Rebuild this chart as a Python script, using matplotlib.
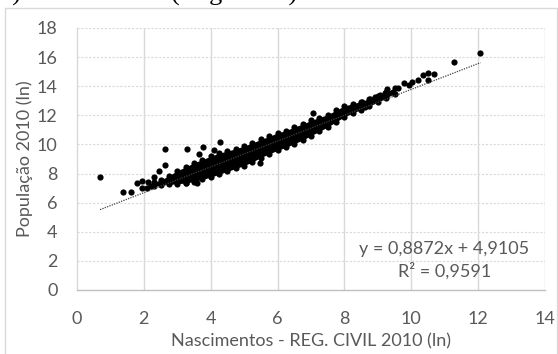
import matplotlib
matplotlib.use("Agg")
import matplotlib.pyplot as plt
from matplotlib.patches import Rectangle
import numpy as np

# ---- data ----
# sparse / isolated municipalities (ln births, ln population)
pts_x = [0.69, 1.37, 1.61, 1.79, 1.93, 2.13, 1.95, 2.10, 2.20, 2.30, 2.46, 2.63, 2.63,
         3.28, 3.66, 3.78, 4.10, 4.28, 3.26, 3.58, 5.47, 7.07,
         8.52, 8.61, 8.76, 8.91, 9.06, 9.21, 9.28, 9.46, 9.61, 9.79, 9.94, 10.01,
         10.19, 10.34, 10.51, 10.51, 10.68, 11.28, 12.07]
pts_y = [7.78, 6.71, 6.71, 7.37, 7.49, 7.44, 7.02, 7.00, 7.15, 7.74, 8.20, 8.59, 9.70,
         9.66, 9.34, 9.80, 9.62, 10.14, 7.33, 7.37, 8.70, 12.14,
         12.93, 12.59, 13.10, 13.23, 13.39, 13.51, 13.80, 13.62, 13.85, 14.20, 14.08, 14.31,
         14.42, 14.74, 14.42, 14.88, 14.81, 15.68, 16.25]

# dense band of municipalities: x positions with lower / upper point centres
band_x = [2.30, 2.50, 2.75, 3.00, 3.25, 3.50, 3.75, 4.00, 4.25, 4.50, 4.75, 5.00,
          5.25, 5.50, 5.75, 6.00, 6.25, 6.50, 6.75, 7.00, 7.25, 7.50, 7.75, 8.00,
          8.25, 8.50, 8.75, 9.00, 9.25, 9.50]
band_hi = [7.40, 7.55, 7.85, 8.20, 8.45, 8.75, 8.95, 9.20, 9.40, 9.55, 9.70, 9.90,
           10.10, 10.35, 10.55, 10.80, 10.95, 11.20, 11.40, 11.65, 11.85, 12.05, 12.35, 12.65,
           12.80, 12.95, 13.15, 13.35, 13.60, 13.85]
band_lo = [7.15, 7.20, 7.25, 7.30, 7.35, 7.45, 7.60, 7.75, 7.95, 8.15, 8.35, 8.55,
           8.80, 9.10, 9.35, 9.60, 9.80, 10.05, 10.30, 10.60, 10.90, 11.20, 11.55, 11.90,
           12.15, 12.40, 12.65, 12.90, 13.20, 13.50]

slope = 0.8872
intercept = 4.9105
r2 = 0.9591

x_ticks = [0, 2, 4, 6, 8, 10, 12, 14]
y_ticks = [0, 2, 4, 6, 8, 10, 12, 14, 16, 18]

title = "b) Nascimentos (Reg. Civil)"
xlabel = "Nascimentos - REG. CIVIL 2010 (ln)"
ylabel = "População 2010 (ln)"

# ---- figure ----
W, H = 558, 354
fig = plt.figure(figsize=(W / 100, H / 100), dpi=100)
font = "Lato"
gray = "#595959"
grid = "#d9d9d9"
fs = 13

# outer chart frame
fig.patches.append(Rectangle((5 / W, -0.05), 552 / W, 1.05 - 8 / H,
                             transform=fig.transFigure, fill=False,
                             edgecolor=grid, linewidth=1.0))
fig.text(-0.002, 1 - 1 / H, title, family="Liberation Serif", fontsize=19,
         ha="left", va="baseline", color="black")

ax = fig.add_axes([77 / W, 1 - 290 / H, (545 - 77) / W, (290 - 28) / H])
ax.set_xlim(0, 14)
ax.set_ylim(0, 18)
ax.set_xticks(x_ticks)
ax.set_yticks(y_ticks)
ax.set_xticklabels([str(v) for v in x_ticks], family=font, fontsize=fs, color=gray)
ax.set_yticklabels([str(v) for v in y_ticks], family=font, fontsize=fs, color=gray)
ax.tick_params(length=0, axis="x", pad=15)
ax.tick_params(length=0, axis="y", pad=14)
for s in ["top", "right"]:
    ax.spines[s].set_visible(False)
for s in ["left", "bottom"]:
    ax.spines[s].set_color("#bfbfbf")
    ax.spines[s].set_linewidth(1.0)
ax.spines["left"].set_color(grid)

for v in x_ticks[1:]:
    ax.axvline(v, color=grid, lw=1.0, zorder=0)
for v in y_ticks[1:]:
    ax.axhline(v, color=grid, lw=0.8, ls=(0, (2, 1.5)), zorder=0)

ax.set_xlabel(xlabel, family=font, fontsize=fs, color=gray, labelpad=5)
ax.set_ylabel(ylabel, family=font, fontsize=fs, color=gray, labelpad=3)

# dense band
ax.fill_between(band_x, band_lo, band_hi, color="black", lw=0, zorder=2)
ax.scatter(band_x, band_hi, s=20, color="black", lw=0, zorder=3)
ax.scatter(band_x, band_lo, s=20, color="black", lw=0, zorder=3)
# isolated points
ax.scatter(pts_x, pts_y, s=20, color="black", lw=0, zorder=3)

# trend line
all_x = pts_x + band_x
xs = np.array([min(all_x), max(all_x)])
ax.plot(xs, slope * xs + intercept, color="#404040", lw=0.9, ls=(0, (1, 1)), zorder=4)

eq = f"y = {slope:.4f}x + {intercept:.4f}".replace(".", ",")
r2t = f"R² = {r2:.4f}".replace(".", ",")
ax.text(444 / W, 1 - 249 / H, eq, transform=fig.transFigure, family=font,
        fontsize=fs, color=gray, ha="center", va="center")
ax.text(445 / W, 1 - 271 / H, r2t, transform=fig.transFigure, family=font,
        fontsize=fs, color=gray, ha="center", va="center")

fig.savefig("out.png", dpi=100)
